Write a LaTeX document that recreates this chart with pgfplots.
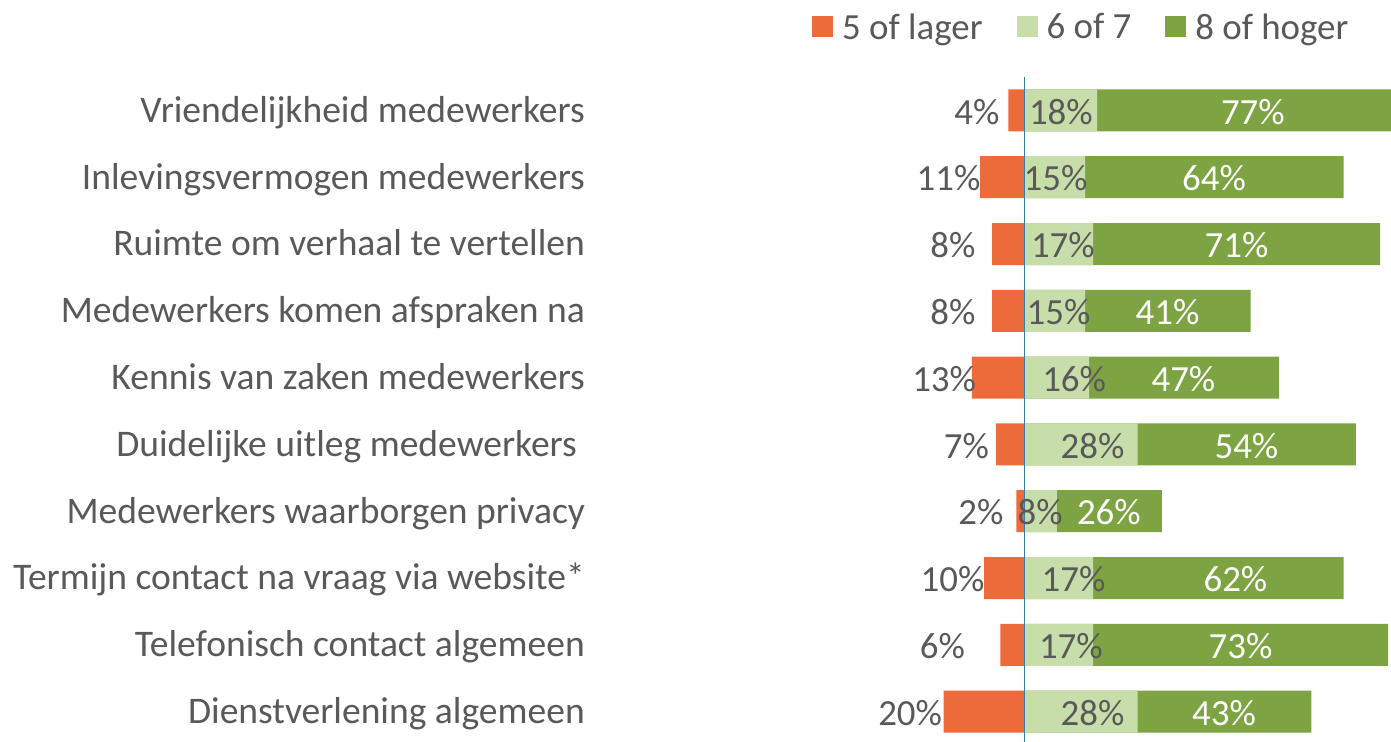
\documentclass[border=0pt]{standalone}
\usepackage{fontspec}
\setmainfont{Carlito}
\usepackage{pgfplots}
\usepackage{pgfplotstable}
\pgfplotsset{compat=1.18}
\definecolor{cOr}{HTML}{ED6B3A}
\definecolor{cLg}{HTML}{C8DEAA}
\definecolor{cDg}{HTML}{7EA343}
\definecolor{cTx}{HTML}{595959}
\definecolor{cZero}{HTML}{3B7BA0}

\pgfplotstableread{
row neg lg dg negx lgx dgx
1 4 18 77 -11.78 9.01 56.53
2 11 15 64 -18.81 7.67 46.93
3 8 17 71 -17.72 9.50 52.47
4 8 15 41 -17.72 8.42 35.39
5 13 16 47 -19.90 12.28 39.35
6 7 28 54 -14.36 16.83 54.94
7 2 8 26 -10.79 3.86 20.89
8 10 17 62 -17.82 12.13 52.22
9 6 17 73 -20.30 11.48 53.46
10 20 28 43 -28.31 16.83 49.40
}\data

\newcommand{\bigf}{\fontsize{37}{44}\selectfont}
\newcommand{\catf}{\fontsize{37.7}{45}\selectfont}

\begin{document}
\begin{tikzpicture}
\useasboundingbox (0,0) rectangle (1391bp,742bp);
\begin{axis}[
  at={(597bp,-3bp)}, anchor=south west,
  scale only axis, width=794bp, height=668bp,
  xmin=-105.82, xmax=90.72, ymin=0.5, ymax=10.5, y dir=reverse,
  xtick=\empty,
  ytick={1,...,10},
  yticklabels={{Vriendelijkheid medewerkers},{Inlevingsvermogen medewerkers},{Ruimte om verhaal te vertellen},{Medewerkers komen afspraken na},{Kennis van zaken medewerkers},{Duidelijke uitleg medewerkers\hspace*{8bp}},{Medewerkers waarborgen privacy},{Termijn contact na vraag via website*},{Telefonisch contact algemeen},{Dienstverlening algemeen}},
  axis line style={draw=none},
  major tick length=0pt,
  tick style={draw=none},
  yticklabel style={font=\catf, text=cTx, anchor=east, inner sep=0pt, xshift=-12bp, text depth=0pt, text height=23.7bp},
  bar width=42bp,
  legend columns=3,
  legend style={at={(0.2708,1.0749)}, anchor=west, draw=none, fill=none, inner sep=0pt, font=\bigf, text=cTx,
    nodes={inner sep=0pt},
    /tikz/every odd column/.append style={column sep=9bp},
    /tikz/every even column/.append style={column sep=34bp}},
  legend image code/.code={\path[#1] (0bp,-10.5bp) rectangle (21bp,10.5bp);},
  every node near coord/.append style={font=\bigf, anchor=center, inner sep=0pt, text depth=0pt, text height=23.3bp, yshift=-2bp},
]
\addlegendimage{fill=cOr, draw=none}
\addlegendentry{5 of lager}
\addlegendimage{fill=cLg, draw=none}
\addlegendentry{6 of 7}
\addlegendimage{fill=cDg, draw=none}
\addlegendentry{8 of hoger}

\addplot[xbar, bar shift=0pt, fill=cOr, draw=none, forget plot] table[x expr=-\thisrow{neg}, y=row]{\data};
\addplot[xbar, bar shift=0pt, fill=cDg, draw=none, forget plot] table[x expr=\thisrow{lg}+\thisrow{dg}, y=row]{\data};
\addplot[xbar, bar shift=0pt, fill=cLg, draw=none, forget plot] table[x=lg, y=row]{\data};

\draw[cZero, line width=1.5bp] (axis cs:0,0.5) -- (axis cs:0,10.5);

\addplot[only marks, mark=*, mark size=0pt, mark options={draw=none, fill=none}, forget plot,
  point meta=explicit symbolic, nodes near coords={\pgfplotspointmeta\%},
  nodes near coords style={text=cTx}] table[x=negx, y=row, meta=neg]{\data};
\addplot[only marks, mark=*, mark size=0pt, mark options={draw=none, fill=none}, forget plot,
  point meta=explicit symbolic, nodes near coords={\pgfplotspointmeta\%},
  nodes near coords style={text=cTx}] table[x=lgx, y=row, meta=lg]{\data};
\addplot[only marks, mark=*, mark size=0pt, mark options={draw=none, fill=none}, forget plot,
  point meta=explicit symbolic, nodes near coords={\pgfplotspointmeta\%},
  nodes near coords style={text=white}] table[x=dgx, y=row, meta=dg]{\data};
\end{axis}
\end{tikzpicture}
\end{document}
